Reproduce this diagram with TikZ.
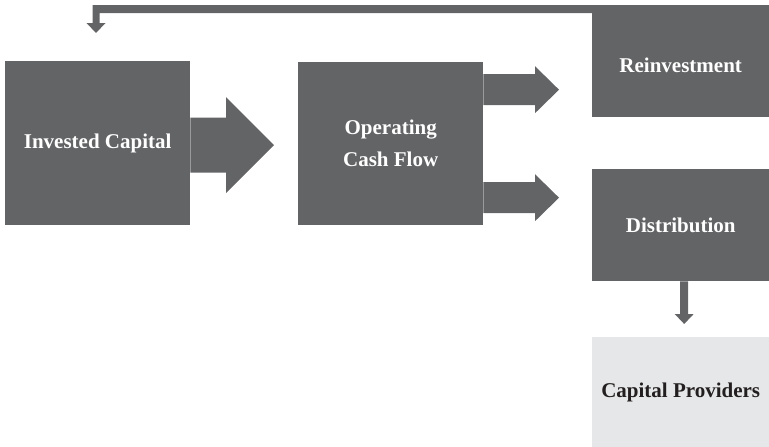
\documentclass[tikz,border=0pt]{standalone}
\usepackage{fontspec}
\setmainfont{Liberation Serif}
\usetikzlibrary{calc}
\definecolor{boxgray}{HTML}{636466}
\definecolor{lightbox}{HTML}{E6E7E8}
\definecolor{darktext}{HTML}{231F20}
\tikzset{
  box/.style={fill=boxgray, draw=none, inner sep=0pt, anchor=north west, align=center,
    text=white, font=\fontsize{21}{32}\selectfont\bfseries},
  lbox/.style={box, fill=lightbox, text=darktext},
  flow/.style={fill=boxgray, draw=none}
}
\begin{document}
\begin{tikzpicture}[x=1pt,y=-1pt]
\useasboundingbox (0,0) rectangle (769,447);
% boxes
\node[box, minimum width=185pt, minimum height=164pt] (ic) at (5,61) {Invested Capital};
\node[box, minimum width=185pt, minimum height=163pt] (ocf) at (298,62) {Operating\\Cash Flow};
\node[box, minimum width=177pt, minimum height=104pt] (rei) at (592,13) {Reinvestment};
\node[box, minimum width=177pt, minimum height=112pt] (dist) at (592,169) {Distribution};
\node[lbox, minimum width=177pt, minimum height=110pt] (cp) at (592,337) {Capital Providers};
% big arrow: Invested Capital -> Operating Cash Flow
\fill[flow] let \p1=($(ic.east)+(0,2)$), \p2=($(ocf.west)+(-24,0)$) in
  (\x1,\y1+27.5pt) -- (\x2-48pt,\y1+27.5pt) -- (\x2-48pt,\y1+48pt) -- (\x2,\y1)
  -- (\x2-48pt,\y1-48pt) -- (\x2-48pt,\y1-27.5pt) -- (\x1,\y1-27.5pt) -- cycle;
% upper arrow: Operating Cash Flow -> Reinvestment
\fill[flow] let \p1=($(ocf.east)+(0,-54)$), \p2=($(rei.west)+(-33,0)$) in
  (\x1,\y1+15.5pt) -- (\x2-24pt,\y1+15.5pt) -- (\x2-24pt,\y1+23.5pt) -- (\x2,\y1)
  -- (\x2-24pt,\y1-23.5pt) -- (\x2-24pt,\y1-15.5pt) -- (\x1,\y1-15.5pt) -- cycle;
% lower arrow: Operating Cash Flow -> Distribution
\fill[flow] let \p1=($(ocf.east)+(0,54)$), \p2=($(dist.west)+(-33,0)$) in
  (\x1,\y1+15.5pt) -- (\x2-24pt,\y1+15.5pt) -- (\x2-24pt,\y1+23.5pt) -- (\x2,\y1)
  -- (\x2-24pt,\y1-23.5pt) -- (\x2-24pt,\y1-15.5pt) -- (\x1,\y1-15.5pt) -- cycle;
% down arrow: Distribution -> Capital Providers
\fill[flow] let \p1=($(dist.south)+(3.5,0)$), \p2=($(cp.north)+(0,-13)$) in
  (\x1-4pt,\y1) -- (\x1-4pt,\y2+10pt) -- (\x1-9.5pt,\y2+10pt) -- (\x1,\y2)
  -- (\x1+9.5pt,\y2+10pt) -- (\x1+4pt,\y2+10pt) -- (\x1+4pt,\y1) -- cycle;
% feedback arrow: Reinvestment -> Invested Capital
\fill[flow] let \p1=($(rei.north east)+(0,-4)$), \p2=($(ic.north west)+(91,-28)$) in
  (\x1,\y1+4pt) -- (\x2-3.5pt,\y1+4pt) -- (\x2-3.5pt,\y2+10pt) -- (\x2-9.5pt,\y2+10pt)
  -- (\x2,\y2) -- (\x2+9.5pt,\y2+10pt) -- (\x2+3.5pt,\y2+10pt) -- (\x2+3.5pt,\y1-4pt)
  -- (\x1,\y1-4pt) -- cycle;
\end{tikzpicture}
\end{document}
